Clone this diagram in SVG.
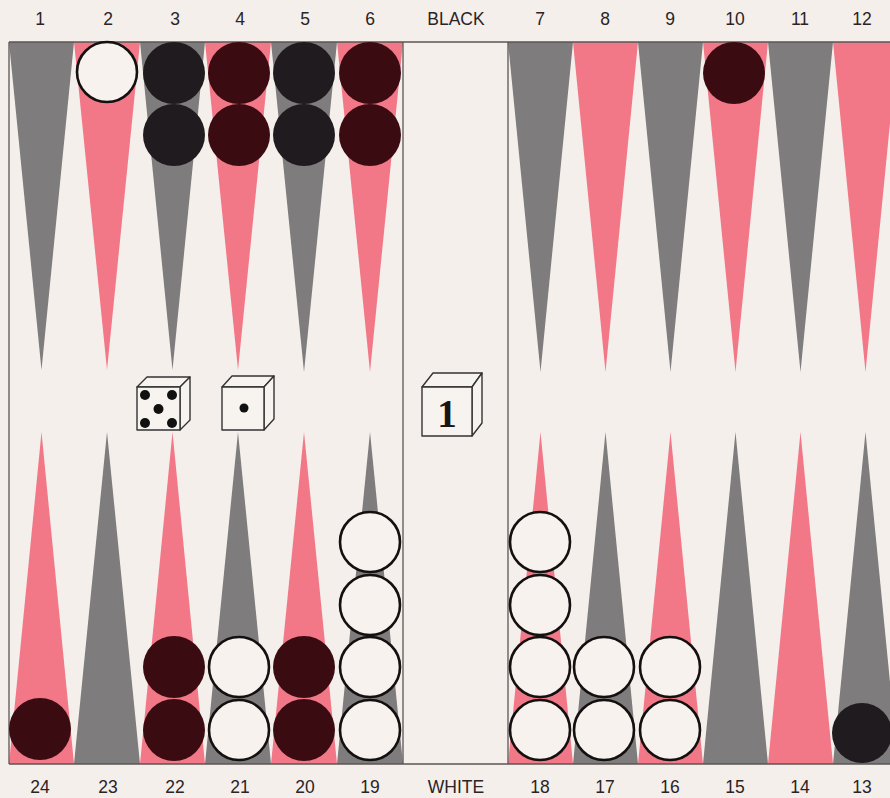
<svg xmlns="http://www.w3.org/2000/svg" width="890" height="798" viewBox="0 0 890 798">
<style>
.g{fill:#7e7c7c}
.p{fill:#f27888}
.bk{fill:#1f1b1e}
.mr{fill:#3b0b12}
.wh{fill:#f7f2ee;stroke:#141010;stroke-width:2.6}
.ln{stroke:#5a5555;stroke-width:1.3;fill:none}
.lb{font-family:"Liberation Sans",Arial,sans-serif;font-size:17.5px;fill:#2a2424;text-anchor:middle}
.die{fill:#f7f3ef;stroke:#333;stroke-width:1.4;stroke-linejoin:round}
.pip{fill:#111}
</style>
<rect width="890" height="798" fill="#f5efec"/>
<g id="points-top">
<polygon class="g" points="9,42 74,42 41.5,370"/>
<polygon class="p" points="74,42 140,42 107,370"/>
<polygon class="g" points="140,42 205,42 172.5,370"/>
<polygon class="p" points="205,42 271,42 238,370"/>
<polygon class="g" points="271,42 337,42 304,372"/>
<polygon class="p" points="337,42 403,42 370,372"/>
<polygon class="g" points="508,42 573,42 540.5,372"/>
<polygon class="p" points="573,42 638,42 605.5,372"/>
<polygon class="g" points="638,42 703,42 670.5,372"/>
<polygon class="p" points="703,42 768,42 735.5,372"/>
<polygon class="g" points="768,42 833,42 800.5,372"/>
<polygon class="p" points="833,42 898,42 865.5,372"/>
</g>
<g id="points-bottom">
<polygon class="p" points="9,764 74,764 41.5,432"/>
<polygon class="g" points="74,764 140,764 107,432"/>
<polygon class="p" points="140,764 205,764 172.5,432"/>
<polygon class="g" points="205,764 271,764 238,432"/>
<polygon class="p" points="271,764 337,764 304,432"/>
<polygon class="g" points="337,764 403,764 370,432"/>
<polygon class="p" points="508,764 573,764 540.5,432"/>
<polygon class="g" points="573,764 638,764 605.5,432"/>
<polygon class="p" points="638,764 703,764 670.5,432"/>
<polygon class="g" points="703,764 768,764 735.5,432"/>
<polygon class="p" points="768,764 833,764 800.5,432"/>
<polygon class="g" points="833,764 898,764 865.5,432"/>
</g>
<g id="board-lines">
<line class="ln" x1="9" y1="42" x2="890" y2="42"/>
<line class="ln" x1="9" y1="764" x2="890" y2="764"/>
<line class="ln" x1="9" y1="42" x2="9" y2="764"/>
<line class="ln" x1="403" y1="42" x2="403" y2="764"/>
<line class="ln" x1="508" y1="42" x2="508" y2="764"/>
</g>
<g id="labels">
<text class="lb" x="40" y="25">1</text>
<text class="lb" x="108" y="25">2</text>
<text class="lb" x="175" y="25">3</text>
<text class="lb" x="240" y="25">4</text>
<text class="lb" x="305" y="25">5</text>
<text class="lb" x="370" y="25">6</text>
<text class="lb" x="456" y="25">BLACK</text>
<text class="lb" x="540" y="25">7</text>
<text class="lb" x="605" y="25">8</text>
<text class="lb" x="670" y="25">9</text>
<text class="lb" x="735" y="25">10</text>
<text class="lb" x="800" y="25">11</text>
<text class="lb" x="862" y="25">12</text>
<text class="lb" x="40" y="793">24</text>
<text class="lb" x="108" y="793">23</text>
<text class="lb" x="175" y="793">22</text>
<text class="lb" x="240" y="793">21</text>
<text class="lb" x="305" y="793">20</text>
<text class="lb" x="370" y="793">19</text>
<text class="lb" x="456" y="793">WHITE</text>
<text class="lb" x="540" y="793">18</text>
<text class="lb" x="605" y="793">17</text>
<text class="lb" x="670" y="793">16</text>
<text class="lb" x="735" y="793">15</text>
<text class="lb" x="800" y="793">14</text>
<text class="lb" x="862" y="793">13</text>
</g>
<g id="checkers-top">
<circle class="wh" cx="107" cy="72" r="30"/>
<circle class="bk" cx="174" cy="73" r="31"/>
<circle class="bk" cx="174" cy="135" r="31"/>
<circle class="mr" cx="239" cy="73" r="31"/>
<circle class="mr" cx="239" cy="135" r="31"/>
<circle class="bk" cx="304" cy="73" r="31"/>
<circle class="bk" cx="304" cy="135" r="31"/>
<circle class="mr" cx="370" cy="73" r="31"/>
<circle class="mr" cx="370" cy="135" r="31"/>
<circle class="mr" cx="734" cy="73" r="31"/>
</g>
<g id="checkers-bottom">
<circle class="mr" cx="40" cy="729" r="31"/>
<circle class="mr" cx="174" cy="667" r="31"/>
<circle class="mr" cx="174" cy="730" r="31"/>
<circle class="wh" cx="239" cy="667" r="30"/>
<circle class="wh" cx="239" cy="730" r="30"/>
<circle class="mr" cx="304" cy="667" r="31"/>
<circle class="mr" cx="304" cy="730" r="31"/>
<circle class="wh" cx="370" cy="542" r="30"/>
<circle class="wh" cx="370" cy="605" r="30"/>
<circle class="wh" cx="370" cy="667" r="30"/>
<circle class="wh" cx="370" cy="730" r="30"/>
<circle class="wh" cx="540" cy="542" r="30"/>
<circle class="wh" cx="540" cy="605" r="30"/>
<circle class="wh" cx="540" cy="667" r="30"/>
<circle class="wh" cx="540" cy="730" r="30"/>
<circle class="wh" cx="604" cy="667" r="30"/>
<circle class="wh" cx="604" cy="730" r="30"/>
<circle class="wh" cx="670" cy="667" r="30"/>
<circle class="wh" cx="670" cy="730" r="30"/>
<circle class="bk" cx="862" cy="733" r="30"/>
</g>
<g id="die-five">
<polygon class="die" points="137,387 147,377 190,377 180,387"/>
<polygon class="die" points="180,387 190,377 190,420 180,430"/>
<rect class="die" x="137" y="387" width="43" height="43"/>
<circle class="pip" cx="145" cy="395" r="5"/>
<circle class="pip" cx="172" cy="395" r="5"/>
<circle class="pip" cx="158.5" cy="409" r="5"/>
<circle class="pip" cx="145" cy="423" r="5"/>
<circle class="pip" cx="172" cy="423" r="5"/>
</g>
<g id="die-one">
<polygon class="die" points="222,387 232,376 274,376 264,387"/>
<polygon class="die" points="264,387 274,376 274,419 264,430"/>
<rect class="die" x="222" y="387" width="42" height="43"/>
<circle class="pip" cx="244" cy="408" r="4.5"/>
</g>
<g id="doubling-cube">
<polygon class="die" points="422,387 433,373 482,373 472,387"/>
<polygon class="die" points="472,387 482,373 482,423 472,436"/>
<rect class="die" x="422" y="387" width="50" height="49"/>
<text x="447" y="427" font-family="'Liberation Serif','Times New Roman',serif" font-size="39" font-weight="bold" fill="#1a1616" text-anchor="middle">1</text>
</g>
</svg>
